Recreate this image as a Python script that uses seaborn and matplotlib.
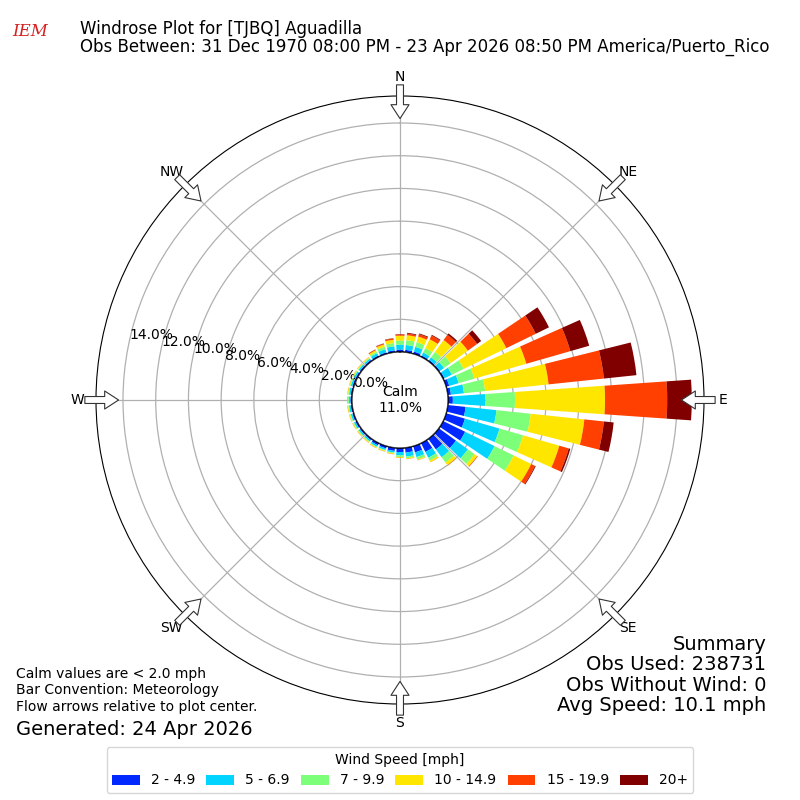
import numpy as np
import matplotlib
matplotlib.use("Agg")
import matplotlib.pyplot as plt
import seaborn as sns

# direction bins (deg, meteorological) and percent frequency per speed class
directions = list(range(0, 360, 10))
speed_labels = ["2 - 4.9", "5 - 6.9", "7 - 9.9", "10 - 14.9", "15 - 19.9", "20+"]
speed_colors = ["#0028ff", "#00d4ff", "#7dff7a", "#ffe600", "#ff4000", "#800000"]

spd_2_5 = [.15, .15, .15, .10, .10, .10, .10, .20, .20, .30, 1.1, 1.2, 1.5, 1.3, .80, .60, .40, .30,
           .25, .20, .15, .15, .10, .10, .10, .10, .10, .10, .10, .10, .10, .10, .10, .10, .10, .12]
spd_5_7 = [.30, .30, .30, .20, .20, .30, .50, .60, .80, 2.0, 1.9, 2.2, 2.0, .90, .60, .40, .30, .25,
           .20, .10, .10, .10, .10, .10, .10, .10, .10, .10, .10, .10, .10, .10, .10, .15, .20, .25]
spd_7_10 = [.25, .30, .30, .30, .40, .50, .80, 1.0, 1.3, 1.8, 2.1, 1.5, 1.3, .50, .40, .20, .15, .10,
            .10, .05, .05, .05, .05, .05, .05, .05, .05, .05, .05, .05, .05, .05, .05, .10, .15, .20]
spd_10_15 = [.30, .30, .35, .60, .90, 1.3, 2.9, 3.3, 3.9, 5.5, 3.3, 2.3, 1.2, .20, .20, .10, .05, .05,
             .05, .05, .05, .05, .05, .05, .05, .05, .05, .05, .05, .05, .05, .05, .05, .10, .15, .20]
spd_15_20 = [.08, .10, .15, .25, .40, .70, 2.0, 2.8, 3.4, 3.8, 1.2, .60, .25, .03, .02, .01, .01, .01,
             .01, .01, .01, .01, .01, .01, .01, .01, .01, .01, .01, .01, .01, .01, .01, .05, .05, .08]
spd_20p = [.02, .05, .05, .05, .10, .30, .90, 1.2, 2.0, 1.5, .60, .10, .05, .01, 0, 0, 0, 0,
           0, 0, 0, 0, 0, 0, 0, 0, 0, 0, 0, 0, 0, 0, 0, .01, .02, .02]
series = [spd_2_5, spd_5_7, spd_7_10, spd_10_15, spd_15_20, spd_20p]

sns.set_style("white")
plt.rcParams["text.color"] = "black"
plt.rcParams["xtick.color"] = "black"
plt.rcParams["ytick.color"] = "black"
plt.rcParams["xtick.labelcolor"] = "black"
plt.rcParams["ytick.labelcolor"] = "black"

fig = plt.figure(figsize=(8, 8), dpi=100)
ax = fig.add_axes([0.12, 0.12, 0.76, 0.76], projection="polar")
ax.set_theta_zero_location("N")
ax.set_theta_direction(-1)

theta = np.deg2rad(directions)
width = np.deg2rad(8)
bottom = np.zeros(len(directions))
for vals, lab, col in zip(series, speed_labels, speed_colors):
    vals = np.array(vals)
    ax.bar(theta, vals, width=width, bottom=bottom, color=col, label=lab,
           edgecolor="none", zorder=3)
    bottom += vals

ax.set_rorigin(-2.93)
ax.set_ylim(0, 15.65)
ax.set_yticks(np.arange(0, 15, 2))
ax.set_yticklabels([f"{v:.1f}%" for v in np.arange(0, 15, 2)], fontsize=10)
ax.set_rlabel_position(282)
ax.set_thetagrids(np.arange(0, 360, 45), ["N", "NE", "E", "SE", "S", "SW", "W", "NW"], fontsize=10)
ax.tick_params(axis="x", pad=3)
ax.grid(True, color="#b0b0b0", lw=0.9, zorder=1)
ax.spines["polar"].set_color("black")

# calm circle
calm = plt.Circle((0.5, 0.5), 0.5 * 48 / 304, transform=ax.transAxes, fc="white",
                  ec="black", lw=1.2, zorder=5)
ax.add_patch(calm)
ax.text(0.5, 0.5, "Calm\n11.0%", transform=ax.transAxes, ha="center", va="center",
        fontsize=10, zorder=6)

# compass arrows at the rim
for ang in range(0, 360, 45):
    t = np.deg2rad(ang)
    ax.annotate("", xy=(t, 14.1), xytext=(t, 16.5), xycoords="data",
                arrowprops=dict(arrowstyle="simple,head_width=1.3,head_length=1.0,tail_width=0.5",
                                fc="white", ec="#333333", lw=0.8),
                annotation_clip=False, zorder=7)

fig.text(0.1, 0.975, "Windrose Plot for [TJBQ] Aguadilla", fontsize=12, va="top")
fig.text(0.1, 0.953, "Obs Between: 31 Dec 1970 08:00 PM - 23 Apr 2026 08:50 PM America/Puerto_Rico",
         fontsize=12, va="top")
fig.text(0.015, 0.955, "IEM", color="#d42020", fontsize=12, style="italic", family="serif")

fig.text(0.958, 0.106, "Summary\nObs Used: 238731\nObs Without Wind: 0\nAvg Speed: 10.1 mph",
         ha="right", va="bottom", fontsize=14, linespacing=1.1)
fig.text(0.02, 0.108, "Calm values are < 2.0 mph\nBar Convention: Meteorology\nFlow arrows relative to plot center.",
         fontsize=10, va="bottom")
fig.text(0.02, 0.076, "Generated: 24 Apr 2026", fontsize=14, va="bottom")

fig.legend(loc="lower center", bbox_to_anchor=(0.5, 0.0), ncol=6, title="Wind Speed [mph]",
           fontsize=10, title_fontsize=10, frameon=True, handlelength=2.0, columnspacing=0.8)

fig.savefig("out.png", dpi=100)
